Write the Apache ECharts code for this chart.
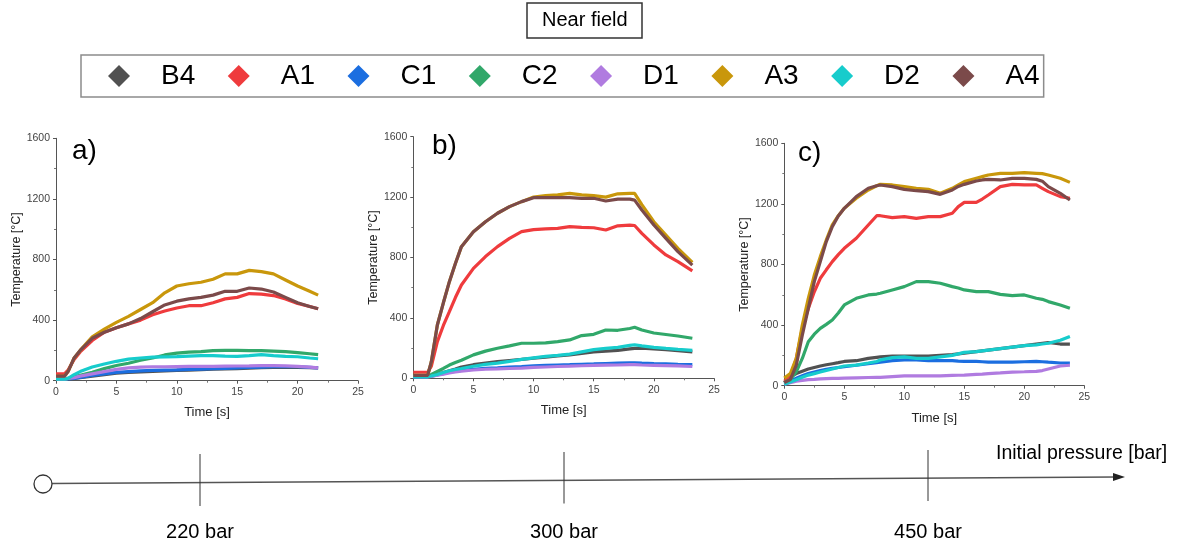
<!DOCTYPE html>
<html>
<head>
<meta charset="utf-8">
<script src="https://cdn.jsdelivr.net/npm/echarts@6/dist/echarts.min.js"></script>
<style>
html,body{margin:0;padding:0;background:#fff;}
#chart{width:1186px;height:548px;}
</style>
</head>
<body>
<div id="chart"></div>
<script>
// ---------- DATA ----------
const seriesNames = ['B4', 'A1', 'C1', 'C2', 'D1', 'A3', 'D2', 'A4'];
const panelLabels = ['a)', 'b)', 'c)'];
const pressureLabels = ['220 bar', '300 bar', '450 bar'];
const xTicks = [0, 5, 10, 15, 20, 25];
const yTicks = [0, 400, 800, 1200, 1600];

// Panel a) 220 bar
const timesA = [0, 0.7, 1, 1.5, 2, 3, 4, 5, 6, 7, 8, 9, 10, 11, 12, 13, 14, 15, 16, 17, 18, 19, 20, 21, 21.7];
const aB4 = [10, 10, 12, 15, 20, 30, 40, 50, 55, 58, 62, 65, 68, 70, 73, 76, 78, 80, 83, 86, 88, 88, 88, 86, 85];
const aA1 = [45, 45, 70, 140, 190, 265, 320, 350, 375, 400, 435, 460, 480, 495, 495, 515, 540, 550, 575, 572, 562, 540, 510, 490, 475];
const aC1 = [10, 10, 12, 15, 22, 35, 45, 55, 60, 65, 68, 70, 72, 75, 77, 79, 81, 84, 87, 90, 92, 93, 92, 88, 85];
const aC2 = [10, 10, 15, 25, 35, 55, 80, 100, 115, 135, 150, 170, 182, 188, 192, 198, 200, 200, 198, 198, 195, 192, 185, 178, 172];
const aD1 = [10, 10, 15, 20, 30, 45, 60, 75, 85, 90, 92, 92, 93, 94, 95, 95, 96, 97, 98, 100, 100, 98, 95, 90, 85];
const aA3 = [30, 30, 60, 150, 200, 290, 340, 385, 425, 470, 515, 580, 625, 640, 650, 670, 705, 705, 728, 720, 705, 665, 625, 590, 565];
const aD2 = [10, 10, 15, 40, 60, 90, 110, 128, 142, 150, 155, 157, 159, 162, 165, 165, 162, 160, 165, 172, 165, 160, 158, 150, 145];
const aA4 = [30, 30, 60, 150, 200, 280, 320, 350, 375, 410, 455, 500, 525, 540, 550, 565, 590, 590, 612, 605, 585, 550, 515, 490, 475];

// Panel b) 300 bar
const timesB = [0, 1.2, 1.5, 2, 2.5, 3, 3.5, 4, 5, 6, 7, 8, 9, 10, 11, 12, 13, 14, 15, 16, 17, 18, 18.4, 19, 20, 21, 22, 23.2];
const bB4 = [10, 10, 15, 25, 38, 50, 62, 75, 90, 100, 110, 118, 125, 133, 140, 148, 155, 165, 175, 180, 185, 195, 198, 200, 195, 190, 183, 175];
const bA1 = [40, 40, 80, 243, 350, 441, 535, 618, 728, 806, 872, 927, 971, 985, 990, 993, 1004, 1000, 997, 982, 1010, 1015, 1012, 960, 883, 817, 773, 711];
const bC1 = [10, 10, 14, 22, 30, 40, 47, 53, 60, 66, 70, 75, 78, 82, 85, 88, 90, 93, 95, 98, 100, 102, 102, 100, 97, 95, 92, 90];
const bC2 = [15, 15, 25, 45, 65, 88, 105, 120, 155, 180, 199, 215, 232, 232, 235, 243, 254, 283, 291, 320, 318, 330, 338, 320, 300, 290, 280, 265];
const bD1 = [10, 10, 13, 20, 28, 35, 42, 48, 55, 60, 62, 65, 68, 72, 75, 78, 80, 83, 85, 87, 88, 90, 90, 88, 86, 84, 82, 78];
const bA3 = [20, 20, 110, 353, 500, 640, 760, 872, 971, 1037, 1093, 1137, 1170, 1200, 1210, 1215, 1225, 1215, 1210, 1200, 1222, 1225, 1225, 1150, 1037, 949, 861, 768];
const bD2 = [10, 10, 15, 25, 38, 50, 58, 65, 80, 92, 100, 112, 125, 135, 145, 152, 160, 175, 190, 198, 205, 218, 222, 215, 205, 198, 192, 185];
const bA4 = [20, 20, 110, 353, 500, 640, 760, 872, 971, 1037, 1093, 1137, 1170, 1196, 1196, 1196, 1196, 1192, 1192, 1174, 1187, 1187, 1180, 1115, 1015, 927, 839, 750];

// Panel c) 450 bar
const timesC = [0, 0.5, 1, 1.5, 2, 2.5, 3, 3.5, 4, 4.5, 5, 6, 7, 7.7, 8, 9, 10, 11, 12, 13, 14, 14.5, 15, 16, 16.5, 17, 18, 19, 20, 21, 21.5, 22, 23, 23.8];
const cB4 = [20, 60, 80, 95, 110, 120, 130, 138, 145, 152, 160, 165, 180, 187, 190, 195, 195, 195, 195, 200, 205, 210, 215, 225, 230, 235, 245, 255, 265, 275, 280, 285, 275, 275];
const cA1 = [30, 60, 180, 378, 510, 620, 709, 765, 819, 865, 907, 973, 1061, 1122, 1122, 1109, 1116, 1105, 1116, 1116, 1138, 1182, 1210, 1210, 1232, 1259, 1314, 1329, 1325, 1325, 1303, 1281, 1248, 1237];
const cC1 = [10, 30, 50, 65, 80, 90, 100, 108, 115, 120, 125, 135, 145, 152, 155, 165, 170, 170, 165, 165, 165, 162, 160, 160, 158, 155, 155, 155, 158, 160, 158, 155, 150, 150];
const cC2 = [20, 40, 92, 180, 290, 340, 378, 405, 434, 480, 533, 577, 599, 605, 610, 632, 654, 687, 687, 676, 654, 645, 632, 621, 621, 621, 603, 594, 599, 577, 570, 555, 533, 511];
const cD1 = [10, 20, 30, 35, 40, 42, 45, 47, 48, 49, 50, 52, 54, 55, 55, 60, 65, 65, 65, 65, 68, 69, 70, 75, 77, 80, 85, 90, 92, 95, 100, 110, 130, 135];
const cA3 = [50, 80, 180, 400, 577, 730, 852, 962, 1061, 1122, 1171, 1237, 1292, 1320, 1329, 1325, 1314, 1303, 1296, 1270, 1303, 1325, 1347, 1369, 1380, 1391, 1402, 1402, 1406, 1402, 1400, 1391, 1369, 1342];
const cD2 = [10, 25, 40, 55, 70, 80, 90, 100, 110, 120, 130, 136, 150, 160, 170, 185, 190, 180, 180, 190, 200, 210, 220, 225, 230, 235, 245, 255, 265, 270, 275, 280, 300, 325];
const cA4 = [20, 40, 136, 334, 510, 687, 819, 951, 1050, 1120, 1171, 1248, 1303, 1320, 1325, 1314, 1296, 1287, 1281, 1263, 1292, 1315, 1329, 1351, 1358, 1362, 1358, 1369, 1369, 1362, 1350, 1314, 1270, 1226];

// ---------- STYLE / LAYOUT ----------
const FONT = "'Liberation Sans', Arial, sans-serif";
const colors = {
  B4: '#515151', A1: '#ef3b3d', C1: '#1b6ee0', C2: '#31a86a',
  D1: '#b07be0', A3: '#c9970b', D2: '#17cccc', A4: '#7b4a4a'
};
const panels = [
  { times: timesA, data: { B4: aB4, A1: aA1, C1: aC1, C2: aC2, D1: aD1, A3: aA3, D2: aD2, A4: aA4 },
    grid: { left: 56, top: 138.3, width: 302, height: 242.4 }, label: { left: 72, top: 137 }, yGap: 26, xGap: 25 },
  { times: timesB, data: { B4: bB4, A1: bA1, C1: bC1, C2: bC2, D1: bD1, A3: bA3, D2: bD2, A4: bA4 },
    grid: { left: 413.3, top: 136.7, width: 300.7, height: 241.6 }, label: { left: 432, top: 132 }, yGap: 26, xGap: 26 },
  { times: timesC, data: { B4: cB4, A1: cA1, C1: cC1, C2: cC2, D1: cD1, A3: cA3, D2: cD2, A4: cA4 },
    grid: { left: 784.3, top: 143.3, width: 300, height: 242.4 }, label: { left: 798, top: 139 }, yGap: 25, xGap: 26 }
];

const grids = [], xAxes = [], yAxes = [], series = [];
const axisLineStyle = { show: true, lineStyle: { color: '#555', width: 1 } };
panels.forEach((p, i) => {
  grids.push(Object.assign({ outerBoundsMode: 'none', containLabel: false }, p.grid));
  xAxes.push({
    type: 'value', gridIndex: i, min: xTicks[0], max: xTicks[xTicks.length - 1], interval: 5,
    name: 'Time [s]', nameLocation: 'middle', nameGap: p.xGap,
    nameTextStyle: { fontFamily: FONT, fontSize: 13, color: '#222' },
    axisLine: axisLineStyle, axisTick: { show: true, inside: false, length: 3, lineStyle: { color: '#555' } },
    minorTick: { show: true, splitNumber: 2, length: 2, lineStyle: { color: '#777' } },
    splitLine: { show: false },
    axisLabel: { fontFamily: FONT, fontSize: 10.5, color: '#444', margin: 6, formatter: v => String(v) }
  });
  yAxes.push({
    type: 'value', gridIndex: i, min: yTicks[0], max: yTicks[yTicks.length - 1], interval: 400,
    name: 'Temperature [°C]', nameLocation: 'middle', nameGap: p.yGap,
    nameTextStyle: { fontFamily: FONT, fontSize: 12.5, color: '#222' },
    axisLine: axisLineStyle, axisTick: { show: true, inside: false, length: 3, lineStyle: { color: '#555' } },
    minorTick: { show: true, splitNumber: 2, length: 2, lineStyle: { color: '#777' } },
    splitLine: { show: false },
    axisLabel: { fontFamily: FONT, fontSize: 10.5, color: '#444', margin: 6, formatter: v => String(v) }
  });
  seriesNames.forEach(name => {
    series.push({
      type: 'line', name: name, xAxisIndex: i, yAxisIndex: i,
      data: p.times.map((t, k) => [t, p.data[name][k]]),
      showSymbol: false, symbol: 'none', smooth: false,
      lineStyle: { color: colors[name], width: 3.2 },
      itemStyle: { color: colors[name] },
      animation: false
    });
  });
});

const titles = [{
  text: 'Near field', left: 527, top: 3, padding: [7, 15, 7, 15],
  borderColor: '#333', borderWidth: 1.5,
  textStyle: { fontFamily: FONT, fontSize: 20, fontWeight: 'normal', color: '#000', lineHeight: 21 }
}];
panels.forEach((p, i) => {
  titles.push({
    text: panelLabels[i], left: p.label.left, top: p.label.top, padding: 0,
    textStyle: { fontFamily: FONT, fontSize: 28, fontWeight: 'normal', color: '#000' }
  });
});

// Pressure timeline (schematic)
const tickXs = [200, 564, 928];
const graphics = [
  { type: 'line', shape: { x1: 52, y1: 483.5, x2: 1116, y2: 477 }, style: { stroke: '#555', lineWidth: 1.3 } },
  { type: 'polygon', shape: { points: [[1125, 477], [1113, 473], [1113, 481]] }, style: { fill: '#222' } },
  { type: 'circle', shape: { cx: 43, cy: 484, r: 9 }, style: { fill: '#fff', stroke: '#333', lineWidth: 1.3 } },
  { type: 'text', left: 996, top: 444, style: { text: 'Initial pressure [bar]', font: '19.5px ' + FONT, fill: '#000' } }
];
tickXs.forEach((x, i) => {
  graphics.push({ type: 'line', shape: { x1: x, y1: 454 - i * 2, x2: x, y2: 506 - i * 2.5 }, style: { stroke: '#333', lineWidth: 1 } });
  graphics.push({ type: 'text', x: x, y: 532, style: { text: pressureLabels[i], font: '20px ' + FONT, fill: '#000', align: 'center', verticalAlign: 'middle' } });
});

const chart = echarts.init(document.getElementById('chart'), null, { renderer: 'canvas' });
chart.setOption({
  animation: false,
  backgroundColor: '#fff',
  title: titles,
  legend: {
    data: seriesNames, left: 81, top: 55, orient: 'horizontal',
    icon: 'diamond', itemWidth: 22, itemHeight: 22, itemGap: 32.5,
    padding: [6, 4, 6, 27],
    borderColor: '#8c8c8c', borderWidth: 1.5,
    selectedMode: false,
    textStyle: { fontFamily: FONT, fontSize: 28, color: '#000', padding: [0, 0, 0, 26], lineHeight: 30 }
  },
  grid: grids, xAxis: xAxes, yAxis: yAxes, series: series,
  graphic: graphics
});
</script>
</body>
</html>
